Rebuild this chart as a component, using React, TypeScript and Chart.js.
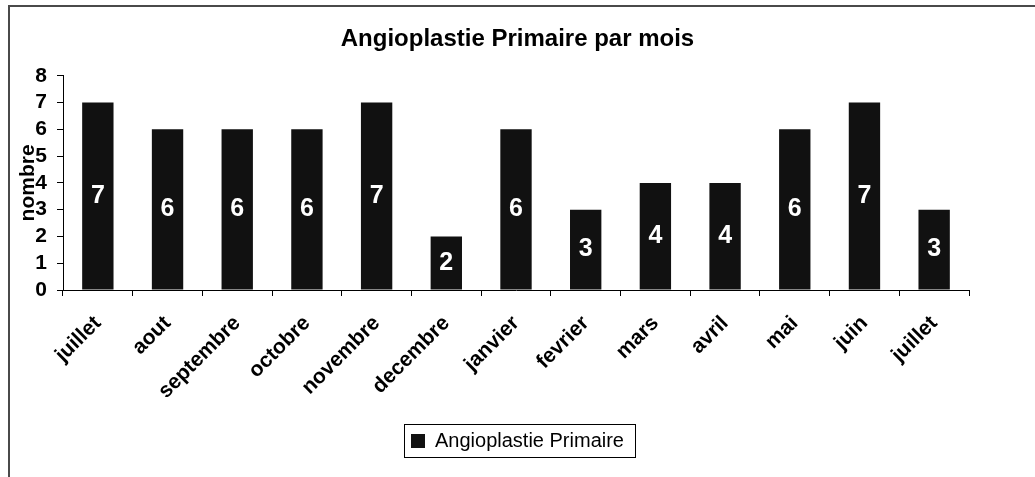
import React, { useEffect, useRef } from 'react';
import { Chart, registerables } from 'chart.js';

Chart.register(...registerables);

const categories = ['juillet', 'aout', 'septembre', 'octobre', 'novembre', 'decembre', 'janvier', 'fevrier', 'mars', 'avril', 'mai', 'juin', 'juillet'];
const values = [7, 6, 6, 6, 7, 2, 6, 3, 4, 4, 6, 7, 3];
const seriesName = 'Angioplastie Primaire';
const chartTitle = 'Angioplastie Primaire par mois';
const yAxisTitle = 'nombre';
const yMin = 0;
const yMax = 8;
const yStep = 1;

const FONT = '"Liberation Sans", Arial, Helvetica, sans-serif';
const W = 1035;
const H = 477;
const PLOT_BOTTOM = 290;
const PAD_BOTTOM = 16;

const framePlugin = {
  id: 'frame',
  beforeDraw(chart: any) {
    const ctx = chart.ctx;
    ctx.save();
    ctx.fillStyle = '#ffffff';
    ctx.fillRect(0, 0, chart.width, chart.height);
    ctx.strokeStyle = '#4a4a4a';
    ctx.lineWidth = 2;
    ctx.beginPath();
    ctx.moveTo(9, chart.height);
    ctx.lineTo(9, 6);
    ctx.lineTo(chart.width, 6);
    ctx.stroke();
    ctx.restore();
  },
};

const barLabelPlugin = {
  id: 'barLabels',
  afterDatasetsDraw(chart: any) {
    const ctx = chart.ctx;
    const meta = chart.getDatasetMeta(0);
    const data = chart.data.datasets[0].data;
    ctx.save();
    ctx.fillStyle = '#ffffff';
    ctx.font = `bold 25px ${FONT}`;
    ctx.textAlign = 'center';
    ctx.textBaseline = 'middle';
    meta.data.forEach((bar: any, i: number) => {
      const p = bar.getProps(['x', 'y', 'base'], true);
      ctx.fillText(String(data[i]), p.x, (p.y + p.base) / 2);
    });
    ctx.restore();
  },
};

const legendBoxPlugin = {
  id: 'legendBox',
  afterDraw(chart: any) {
    const lg = chart.legend;
    if (!lg || !lg.legendHitBoxes || !lg.legendHitBoxes.length) return;
    const hb = lg.legendHitBoxes[0];
    const ctx = chart.ctx;
    ctx.save();
    ctx.strokeStyle = '#000000';
    ctx.lineWidth = 1;
    ctx.strokeRect(Math.round(hb.left - 7) + 0.5, Math.round(hb.top - 7) + 0.5, Math.round(hb.width + 18), Math.round(hb.height + 13));
    ctx.restore();
  },
};

export default function App() {
  const ref = useRef<HTMLCanvasElement | null>(null);

  useEffect(() => {
    if (!ref.current) return;
    const chart = new Chart(ref.current, {
      type: 'bar',
      data: {
        labels: categories,
        datasets: [
          {
            label: seriesName,
            data: values,
            backgroundColor: '#111111',
            borderWidth: 0,
            barPercentage: 0.45,
            categoryPercentage: 1,
            yAxisID: 'y',
          },
        ],
      },
      plugins: [framePlugin, barLabelPlugin, legendBoxPlugin],
      options: {
        responsive: false,
        animation: false,
        layout: { padding: { left: 0, right: 0, top: 0, bottom: PAD_BOTTOM } },
        plugins: {
          title: {
            display: true,
            text: chartTitle,
            color: '#000000',
            font: { family: FONT, size: 24, weight: 'bold' },
            padding: { top: 25, bottom: 22 },
          },
          legend: {
            display: true,
            position: 'bottom',
            labels: {
              color: '#000000',
              font: { family: FONT, size: 20 },
              boxWidth: 14,
              boxHeight: 14,
              padding: 10,
            },
          },
          tooltip: { enabled: false },
        },
        scales: {
          x: {
            offset: true,
            grid: {
              display: true,
              offset: true,
              drawOnChartArea: false,
              drawTicks: true,
              tickLength: 6,
              color: '#000000',
            },
            border: { display: true, color: '#000000', width: 1 },
            ticks: {
              color: '#000000',
              font: { family: FONT, size: 21, weight: 'bold' },
              minRotation: 45,
              maxRotation: 45,
              autoSkip: false,
              padding: 15,
            },
            afterFit(scale: any) {
              const lh = scale.chart.legend ? scale.chart.legend.height : 0;
              scale.height = H - PLOT_BOTTOM - lh - PAD_BOTTOM;
            },
          },
          y: {
            position: 'left',
            min: yMin,
            max: yMax,
            grid: {
              display: true,
              drawOnChartArea: false,
              drawTicks: true,
              tickLength: 6,
              color: '#000000',
            },
            border: { display: true, color: '#000000', width: 1 },
            ticks: {
              stepSize: yStep,
              autoSkip: false,
              maxTicksLimit: 20,
              color: '#000000',
              font: { family: FONT, size: 21, weight: 'bold', lineHeight: 1 },
              padding: 10,
            },
            title: {
              display: true,
              text: yAxisTitle,
              color: '#000000',
              font: { family: FONT, size: 21, weight: 'bold' },
              padding: { top: 16, bottom: 0 },
            },
            afterFit(scale: any) {
              scale.width = 63;
            },
          },
          yRight: {
            position: 'right',
            display: true,
            grid: { display: false },
            border: { display: false },
            ticks: { display: false },
            afterFit(scale: any) {
              scale.width = 66;
            },
          },
        },
      },
    } as any);
    return () => chart.destroy();
  }, []);

  return (
    <div style={{ position: 'absolute', left: 0, top: 0, width: W, height: H }}>
      <canvas ref={ref} width={W} height={H} style={{ display: 'block', width: W, height: H }} />
    </div>
  );
}
